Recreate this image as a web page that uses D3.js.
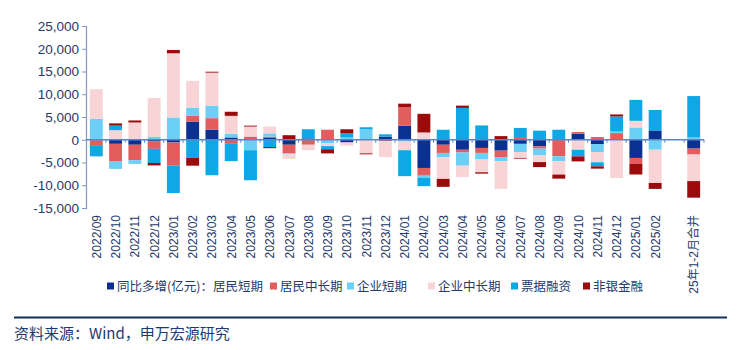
<!DOCTYPE html>
<html><head><meta charset="utf-8">
<script src="https://cdn.jsdelivr.net/npm/d3@7"></script>
<style>
body{margin:0;background:#fff;}
text{font-family:"Liberation Sans",Arial,"Noto Sans CJK SC",sans-serif;}
.cjk{font-family:"Noto Sans CJK SC","Liberation Sans",sans-serif;}
</style></head>
<body><svg id="c" width="737" height="350"></svg>
<script>
const categories = ["2022/09","2022/10","2022/11","2022/12","2023/01","2023/02","2023/03","2023/04","2023/05","2023/06","2023/07","2023/08","2023/09","2023/10","2023/11","2023/12","2024/01","2024/02","2024/03","2024/04","2024/05","2024/06","2024/07","2024/08","2024/09","2024/10","2024/11","2024/12","2025/01","2025/02","25年1-2月合并"];
const seriesNames = ["同比多增(亿元)：居民短期","居民中长期","企业短期","企业中长期","票据融资","非银金融"];
const hhShort   = [-150,-900,-1100,-300,-600,4000,2200,500,0,400,-1100,300,0,-600,0,700,3100,-6200,-1100,-2200,-1800,-2400,-900,-1450,0,1300,-950,0,-4000,2050,-1950];
const hhLong    = [-1200,-3900,-3400,-1700,-5100,1250,2550,-900,700,300,-1900,-1100,2200,0,0,-300,4100,-1700,-1800,-600,-1100,-1400,600,-500,-3650,400,600,1460,-1300,0,-1300];
const corpShort = [4600,-1600,-800,700,4900,1800,2700,800,-2300,700,-200,0,-800,500,2300,0,-400,-500,-900,-2900,-1450,-900,-1800,-1500,-1100,0,-1750,350,2700,-2200,500];
const corpLong  = [6500,2100,3800,8500,14100,5900,7300,3950,2200,1500,-1000,-1200,-600,-700,-3000,-3500,-1900,1600,-4800,-2500,-2800,-6100,-1300,-1460,-2900,-2200,-2250,-8400,1460,-7300,-5840];
const bills     = [-2300,1000,0,-3100,-6000,-4000,-7800,-3800,-6600,-1600,0,2000,-700,900,450,500,-5700,-1800,2200,7000,3150,0,2000,2000,2200,-1460,-900,3300,4600,4500,9100];
const nonbank   = [0,500,440,-550,730,-1700,200,900,200,-250,1000,0,-900,900,-200,0,730,4100,-1750,500,-300,800,-150,-1100,-900,-1100,-500,450,-2340,-1300,-3640];
const yTicks = [-15000,-10000,-5000,0,5000,10000,15000,20000,25000];
const sourceText = "资料来源：Wind，申万宏源研究";

const colors = ["#0a3191","#e25e5e","#6ccff5","#f8d4d7","#0ea8e6","#9a0b0b"];
const seriesData = [hhShort,hhLong,corpShort,corpLong,bills,nonbank];

const svg = d3.select("#c");
const keys = d3.range(seriesData.length);
const rows = categories.map((c,i)=>{const r={cat:c}; keys.forEach(k=>r[k]=seriesData[k][i]); return r;});

// domain with an empty slot before the combined bar
const domain = categories.slice(0,categories.length-1).concat(["__gap__", categories[categories.length-1]]);
const x = d3.scaleBand().domain(domain).range([86,704]).paddingInner(0.33).paddingOuter(0.2);
const y = d3.scaleLinear().domain([-15000,25000]).range([208,26]);

const stack = d3.stack().keys(keys).offset(d3.stackOffsetDiverging).order(d3.stackOrderNone);
const stacked = stack(rows);

svg.append("g").selectAll("g").data(stacked).join("g")
  .attr("fill",(d,i)=>colors[i])
  .selectAll("rect").data(d=>d).join("rect")
  .attr("x",d=>x(d.data.cat))
  .attr("width",x.bandwidth())
  .attr("y",d=>y(Math.max(d[0],d[1])))
  .attr("height",d=>Math.abs(y(d[0])-y(d[1])));

// y axis
const fmt = v => (v<0?"-":"") + d3.format(",")(Math.abs(v));
const ya = svg.append("g").attr("transform","translate(86,0)")
  .call(d3.axisLeft(y).tickValues(yTicks).tickFormat(fmt).tickSize(4).tickPadding(3));
ya.select(".domain").attr("stroke","#8597c4").attr("stroke-width",1.2);
ya.selectAll(".tick line").attr("stroke","#8597c4");
ya.selectAll(".tick text").attr("fill","#253a6a").attr("font-size","13.5px")
  .style("font-family","'Liberation Sans',Arial,sans-serif");

// zero axis
const y0 = y(0);
svg.append("line").attr("x1",86).attr("x2",704).attr("y1",y0).attr("y2",y0)
  .attr("stroke","#5a86c6").attr("stroke-width",1.5);
const step = x.step();
const bounds = d3.range(domain.length+1).map(i=>x.range()[0] + i*step - (i===0?0:0));
svg.append("g").selectAll("line").data(domain.slice(1)).join("line")
  .attr("x1",d=>x(d)-step*x.paddingInner()/2).attr("x2",d=>x(d)-step*x.paddingInner()/2)
  .attr("y1",y0).attr("y2",y0+3).attr("stroke","#5a86c6").attr("stroke-width",1);
svg.append("line").attr("x1",704).attr("x2",704).attr("y1",y0).attr("y2",y0+3)
  .attr("stroke","#5a86c6");

// x labels
svg.append("g").selectAll("text").data(categories).join("text")
  .attr("transform",d=>`translate(${x(d)+x.bandwidth()/2+4.5},215) rotate(-90)`)
  .attr("text-anchor","end")
  .attr("fill","#253a6a").attr("font-size","12px")
  .style("font-family","'Liberation Sans',Arial,'Noto Sans CJK SC',sans-serif")
  .text(d=>d);

// legend
const legX = [107,270,347,428,511,583];
const lg = svg.append("g").selectAll("g").data(seriesNames).join("g")
  .attr("transform",(d,i)=>`translate(${legX[i]},286)`);
lg.append("rect").attr("x",0).attr("y",-3.5).attr("width",7).attr("height",7).attr("fill",(d,i)=>colors[i]);
lg.append("text").attr("x",10).attr("y",4.5).attr("class","cjk")
  .attr("font-size","12.5px").attr("fill","#253a6a").text(d=>d);

// footer
svg.append("line").attr("x1",14).attr("x2",727).attr("y1",317.5).attr("y2",317.5)
  .attr("stroke","#12305f").attr("stroke-width",2.2);
svg.append("text").attr("x",14).attr("y",339).attr("class","cjk")
  .attr("font-size","15px").attr("fill","#1d3a6e").text(sourceText);
</script></body></html>
